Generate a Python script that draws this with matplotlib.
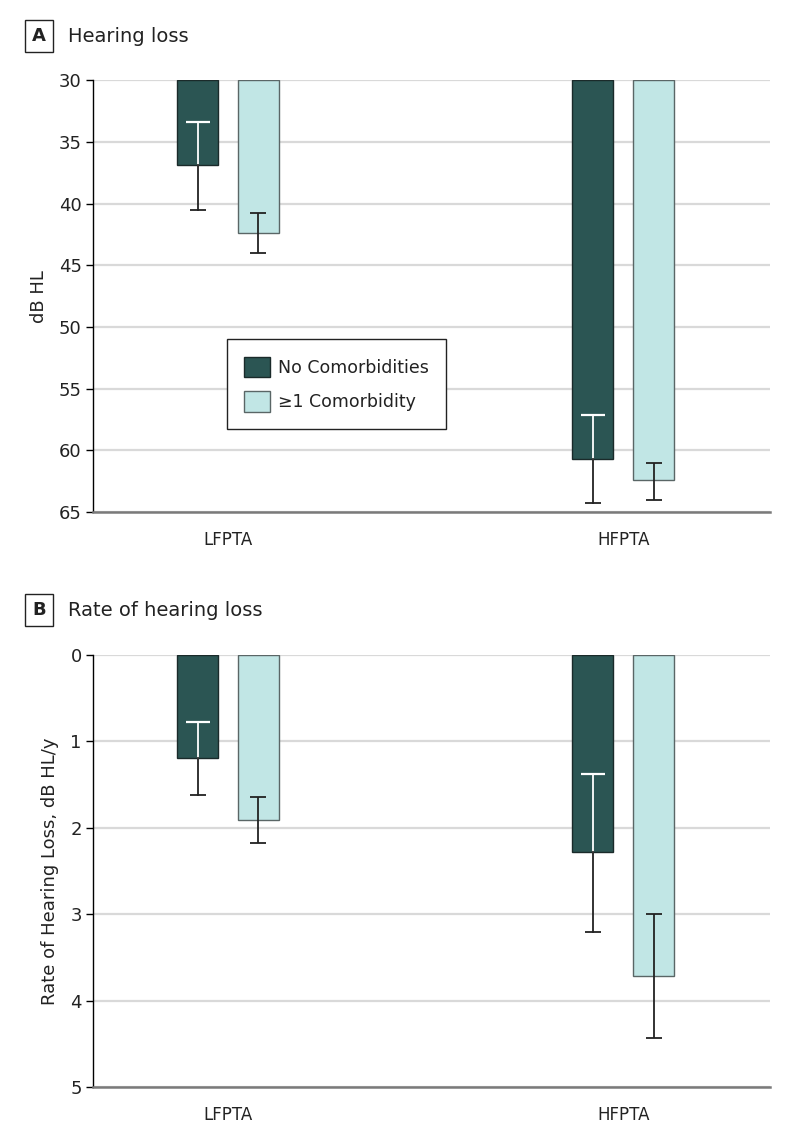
import numpy as np
import matplotlib.pyplot as plt
from matplotlib.patches import Patch

plt.rcParams['font.family'] = ['DejaVu Sans']

categories = ['LFPTA', 'HFPTA']
groups = ['No Comorbidities', '\u22651 Comorbidity']

# panel A: hearing loss, dB HL
hl_none = [36.9, 60.7]
hl_none_lo = [33.4, 57.1]
hl_none_hi = [40.5, 64.3]
hl_some = [42.4, 62.4]
hl_some_lo = [40.8, 61.0]
hl_some_hi = [44.0, 64.0]

# panel B: rate of hearing loss, dB HL/y
rate_none = [1.19, 2.28]
rate_none_lo = [0.77, 1.38]
rate_none_hi = [1.62, 3.21]
rate_some = [1.91, 3.71]
rate_some_lo = [1.64, 3.00]
rate_some_hi = [2.18, 4.43]

dark = '#2b5553'
light = '#c1e6e5'
ink = '#222222'

fig = plt.figure(figsize=(7.94, 11.44), dpi=100)
axA = fig.add_axes([0.117, 0.5524, 0.853, 0.3776])
axB = fig.add_axes([0.117, 0.0498, 0.853, 0.3776])

x = np.arange(len(categories))
off = 0.077
w = 0.104


def draw(ax, base, top, ticks, none, nlo, nhi, some, slo, shi, ylabel):
    ax.bar(x - off, np.array(none) - base, w, bottom=base, color=dark,
           edgecolor='#1a2a2a', lw=1, zorder=3)
    ax.bar(x + off, np.array(some) - base, w, bottom=base, color=light,
           edgecolor='#5a6666', lw=1, zorder=3)
    for i in range(len(x)):
        # part of the error bar inside the dark bar is drawn white
        xi = x[i] - off
        ax.plot([xi, xi], [nlo[i], none[i]], color='white', lw=1.3, zorder=4)
        ax.plot([xi, xi], [none[i], nhi[i]], color=ink, lw=1.3, zorder=4)
        ax.plot([xi], [nlo[i]], marker='_', ms=17, mew=1.6, color='white', zorder=4)
        ax.plot([xi], [nhi[i]], marker='_', ms=12, mew=1.3, color=ink, zorder=4)
        ax.errorbar([x[i] + off], [some[i]],
                    yerr=[[some[i] - slo[i]], [shi[i] - some[i]]],
                    fmt='none', ecolor=ink, elinewidth=1.3, capsize=6,
                    capthick=1.3, zorder=4)
    ax.set_ylim(top, base)
    ax.set_xlim(-0.342, 1.372)
    ax.set_yticks(ticks)
    ax.set_yticklabels([str(t) for t in ticks])
    ax.set_xticks(x)
    ax.set_xticklabels(categories, fontsize=12, color=ink)
    ax.tick_params(axis='x', length=0, pad=14)
    ax.tick_params(axis='y', length=5, width=1, direction='out', labelsize=13,
                   pad=3, labelcolor=ink)
    ax.yaxis.grid(True, color='#d9d9d9', lw=1.6, zorder=0)
    ax.set_axisbelow(True)
    for s in ['top', 'right']:
        ax.spines[s].set_visible(False)
    ax.spines['left'].set_linewidth(1)
    ax.spines['bottom'].set_color('#7a7a7a')
    ax.spines['bottom'].set_linewidth(1.8)
    ax.set_ylabel(ylabel, fontsize=13, labelpad=8, color=ink)


draw(axA, 30, 65, [30, 35, 40, 45, 50, 55, 60, 65],
     hl_none, hl_none_lo, hl_none_hi, hl_some, hl_some_lo, hl_some_hi, 'dB HL')
draw(axB, 0, 5, [0, 1, 2, 3, 4, 5],
     rate_none, rate_none_lo, rate_none_hi, rate_some, rate_some_lo, rate_some_hi,
     'Rate of Hearing Loss, dB HL/y')

handles = [Patch(facecolor=dark, edgecolor='#1a2a2a'),
           Patch(facecolor=light, edgecolor='#5a6666')]
leg = axA.legend(handles, groups, loc='upper left', bbox_to_anchor=(0.198, 0.40),
                 fontsize=12.5, frameon=True, fancybox=False, edgecolor=ink,
                 framealpha=1, borderpad=1.0, handlelength=1.45, handleheight=1.45,
                 labelspacing=0.8, handletextpad=0.5, borderaxespad=0)
leg.get_frame().set_linewidth(1)
for t in leg.get_texts():
    t.set_color(ink)

for label, title, yy in [('A', 'Hearing loss', 1 - 36 / 1144),
                         ('B', 'Rate of hearing loss', 1 - 610 / 1144)]:
    fig.text(0.0495, yy, label, fontsize=13, fontweight='bold', ha='center', va='center',
             color=ink,
             bbox=dict(boxstyle='square,pad=0.4', facecolor='white', edgecolor=ink, lw=1))
    fig.text(0.086, yy, title, fontsize=14, ha='left', va='center', color=ink)

fig.savefig('out.png', dpi=100)
